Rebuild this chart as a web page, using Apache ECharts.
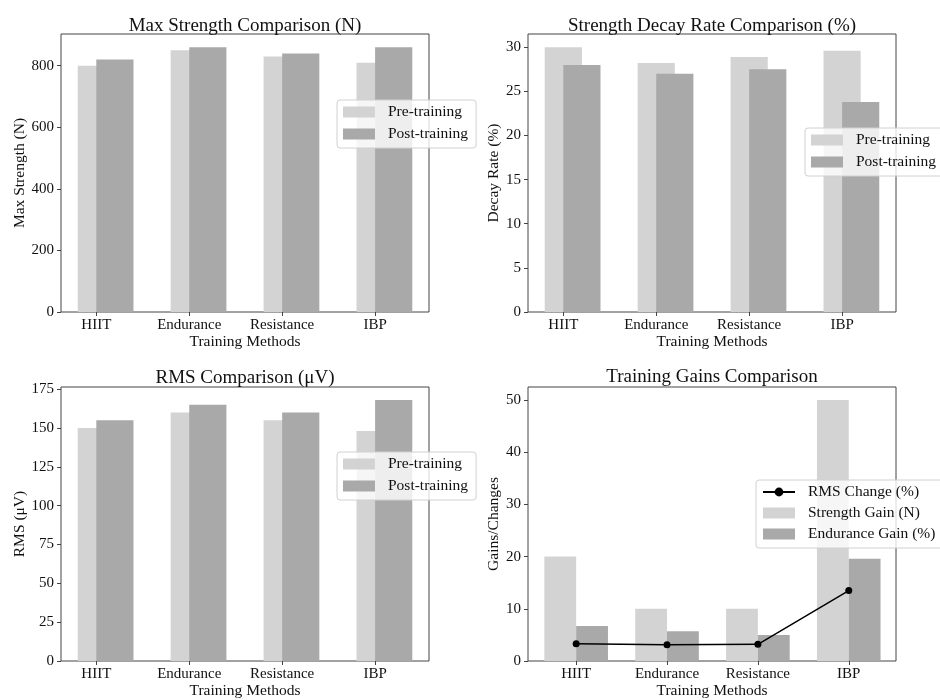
<!DOCTYPE html>
<html>
<head>
<meta charset="utf-8">
<script src="https://cdn.jsdelivr.net/npm/echarts@6/dist/echarts.min.js"></script>
<style>html,body{margin:0;padding:0;background:#fff}#c{width:940px;height:700px}</style>
</head>
<body>
<div id="c"></div>
<script>
const categories = ['HIIT', 'Endurance', 'Resistance', 'IBP'];
const strengthPre = [800, 850, 830, 810];
const strengthPost = [820, 860, 840, 860];
const decayPre = [30, 28.2, 28.9, 29.6];
const decayPost = [28, 27, 27.5, 23.8];
const rmsPre = [150, 160, 155, 148];
const rmsPost = [155, 165, 160, 168];
const strengthGain = [20, 10, 10, 50];
const enduranceGain = [6.7, 5.7, 5.0, 19.6];
const rmsChange = [3.3, 3.1, 3.2, 13.5];
const strengthTicks = [0, 200, 400, 600, 800];
const decayTicks = [0, 5, 10, 15, 20, 25, 30];
const rmsTicks = [0, 25, 50, 75, 100, 125, 150, 175];
const gainTicks = [0, 10, 20, 30, 40, 50];
const catTicks = categories.map((c, i) => i);

const FONT = 'Liberation Serif, Times New Roman, serif';
const PRE = '#d3d3d3', POST = '#a9a9a9';
const AX = '#444';

const grids = [
  {left: 61, top: 34, width: 368, height: 278},
  {left: 528, top: 34, width: 368, height: 278},
  {left: 61, top: 387, width: 368, height: 277},
  {left: 528, top: 387, width: 368, height: 277}
].map(g => Object.assign({show: true, borderColor: AX, borderWidth: 1, backgroundColor: 'transparent'}, g));

const xRanges = [[-0.38, 3.58], [-0.38, 3.58], [-0.38, 3.58], [-0.53, 3.52]];
const xAxes = xRanges.map((r, i) => ({
  type: 'value', gridIndex: i, min: r[0], max: r[1],
  splitLine: {show: false}, axisLine: {show: false, onZero: false},
  axisTick: {show: true, customValues: catTicks, length: 4, lineStyle: {color: AX}},
  axisLabel: {customValues: catTicks, formatter: v => categories[Math.round(v)], margin: 6,
    fontFamily: FONT, fontSize: 15, color: '#111'},
  name: 'Training Methods', nameLocation: 'middle', nameGap: 22,
  nameTextStyle: {fontFamily: FONT, fontSize: 15.5, color: '#111'}
}));

const yDefs = [
  {max: 903, ticks: strengthTicks, name: 'Max Strength (N)', gap: 31},
  {max: 31.5, ticks: decayTicks, name: 'Decay Rate (%)', gap: 23},
  {max: 176.4, ticks: rmsTicks, name: 'RMS (μV)', gap: 31},
  {max: 52.5, ticks: gainTicks, name: 'Gains/Changes', gap: 23}
];
const yAxes = yDefs.map((d, i) => ({
  type: 'value', gridIndex: i, min: 0, max: d.max,
  splitLine: {show: false}, axisLine: {show: false, onZero: false},
  axisTick: {show: true, customValues: d.ticks, length: 4, lineStyle: {color: AX}},
  axisLabel: {customValues: d.ticks, margin: 7, fontFamily: FONT, fontSize: 15, color: '#111'},
  name: d.name, nameLocation: 'middle', nameGap: d.gap,
  nameTextStyle: {fontFamily: FONT, fontSize: 15.5, color: '#111'}
}));

function barSeries(name, values, gi, offset, width, color) {
  return {
    type: 'custom', name: name, xAxisIndex: gi, yAxisIndex: gi,
    itemStyle: {color: color},
    encode: {x: 0, y: 1},
    data: values.map((v, i) => [i, v]),
    renderItem: function (params, api) {
      const x = api.value(0), y = api.value(1);
      const p0 = api.coord([x + offset, y]);
      const p1 = api.coord([x + offset + width, 0]);
      return {type: 'rect', shape: {x: p0[0], y: p0[1], width: p1[0] - p0[0], height: p1[1] - p0[1]},
        style: api.style()};
    }
  };
}

const series = [
  barSeries('Pre-training', strengthPre, 0, -0.2, 0.4, PRE),
  barSeries('Post-training', strengthPost, 0, 0, 0.4, POST),
  barSeries('Pre-training', decayPre, 1, -0.2, 0.4, PRE),
  barSeries('Post-training', decayPost, 1, 0, 0.4, POST),
  barSeries('Pre-training', rmsPre, 2, -0.2, 0.4, PRE),
  barSeries('Post-training', rmsPost, 2, 0, 0.4, POST),
  barSeries('Strength Gain (N)', strengthGain, 3, -0.35, 0.35, PRE),
  barSeries('Endurance Gain (%)', enduranceGain, 3, 0, 0.35, POST),
  {
    type: 'line', name: 'RMS Change (%)', xAxisIndex: 3, yAxisIndex: 3,
    data: rmsChange.map((v, i) => [i, v]),
    symbol: 'circle', symbolSize: 7,
    lineStyle: {color: '#000', width: 1.5}, itemStyle: {color: '#000'},
    z: 5
  }
];

const titles = [
  {text: 'Max Strength Comparison (N)', left: 245, top: 17},
  {text: 'Strength Decay Rate Comparison (%)', left: 712, top: 17},
  {text: 'RMS Comparison (μV)', left: 245, top: 369},
  {text: 'Training Gains Comparison', left: 712, top: 368}
].map(t => Object.assign({textAlign: 'center', padding: 0,
  textStyle: {fontFamily: FONT, fontSize: 19, fontWeight: 'normal', color: '#111'}}, t));

function legend(names, left, top, icons) {
  return {
    orient: 'vertical', left: left, top: top,
    data: names.map((n, i) => (icons && !icons[i]) ? {name: n} : {name: n, icon: 'rect'}),
    itemWidth: 32, itemHeight: 11, itemGap: 6,
    padding: [4, 8, 6, 6],
    backgroundColor: 'rgba(255,255,255,0.8)', borderColor: '#d0d0d0', borderWidth: 1, borderRadius: 3,
    selectedMode: false,
    textStyle: {fontFamily: FONT, fontSize: 15.5, color: '#111', lineHeight: 16, padding: [0, 0, 0, 8]}
  };
}

const option = {
  animation: false,
  backgroundColor: '#fff',
  title: titles,
  grid: grids,
  xAxis: xAxes,
  yAxis: yAxes,
  legend: [
    legend(['Pre-training', 'Post-training'], 337, 100),
    legend(['Pre-training', 'Post-training'], 805, 128),
    legend(['Pre-training', 'Post-training'], 337, 452),
    legend(['RMS Change (%)', 'Strength Gain (N)', 'Endurance Gain (%)'], 756, 480, [false, true, true])
  ],
  series: series
};
option.legend[3].itemGap = 5;

const chart = echarts.init(document.getElementById('c'), null, {renderer: 'canvas'});
chart.setOption(option);
</script>
</body>
</html>
